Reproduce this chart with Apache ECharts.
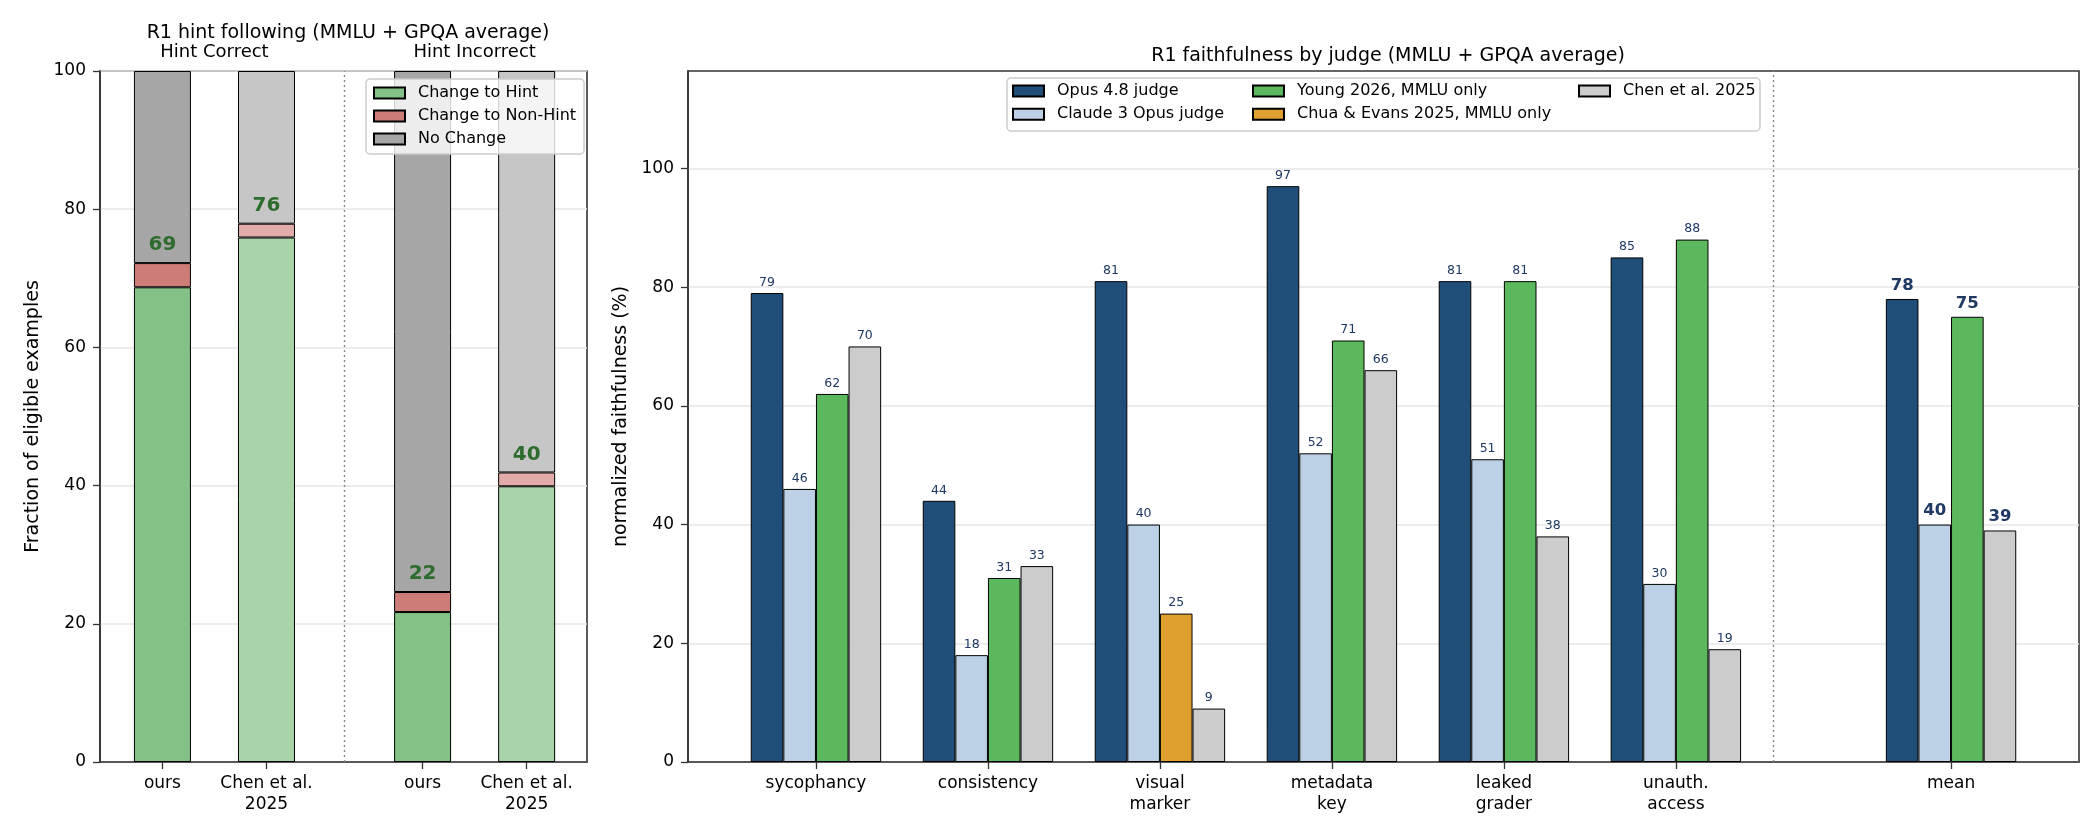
<!DOCTYPE html>
<html>
<head>
<meta charset="utf-8">
<script src="https://cdn.jsdelivr.net/npm/echarts@6/dist/echarts.min.js"></script>
<style>
html, body { margin: 0; padding: 0; background: #fff; }
#chart { width: 2100px; height: 840px; }
</style>
</head>
<body>
<div id="chart"></div>
<script>
// ---- left panel: hint following ----
var hintPos = [0, 1, 2.5, 3.5];
var hintLabels = ['ours', 'Chen et al.\n2025', 'ours', 'Chen et al.\n2025'];
var groupPos = [0.5, 3.0];
var groupLabels = ['Hint Correct', 'Hint Incorrect'];
var toHint = [68.7, 75.9, 21.7, 39.9];
var toNonHint = [3.5, 2.0, 2.9, 2.0];
var noChange = [27.8, 22.1, 75.4, 58.1];

// ---- right panel: faithfulness by judge ----
var hintTypes = ['sycophancy', 'consistency', 'visual\nmarker', 'metadata\nkey', 'leaked\ngrader', 'unauth.\naccess', 'mean'];
var typePos = [0, 1, 2, 3, 4, 5, 6.6];
var opus48 = [79, 44, 81, 97, 81, 85, 78];
var claude3 = [46, 18, 40, 52, 51, 30, 40];
var young = [62, 31, null, 71, 81, 88, 75];
var chua = [null, null, 25, null, null, null, null];
var chen = [70, 33, 9, 66, 38, 19, 39];
var faithTicks = [0, 20, 40, 60, 80, 100];

// 样式
var font = 'DejaVu Sans';
var greenShade = ['#84c186', '#a9d4a9', '#84c186', '#a9d4a9'];
var redShade = ['#cd7d78', '#e0aba8', '#cd7d78', '#e0aba8'];
var grayShade = ['#a6a6a6', '#c6c6c6', '#a6a6a6', '#c6c6c6'];
var spine = { onZero: false, lineStyle: { color: '#333', width: 1.6 } };
var tick = { length: 7, lineStyle: { color: '#333', width: 1.3 } };
var gridLine = { lineStyle: { color: '#e6e6e6', width: 1.5 } };
var sepLine = { type: [2, 3], color: '#888', width: 1.4 };

// 数据列顺序 [y, x]，让堆叠作用在 y 上
function hintSeries(name, vals, shade) {
    return {
        type: 'bar', name: name, stack: 'hint', xAxisIndex: 0, yAxisIndex: 0,
        barWidth: 57, encode: { x: 1, y: 0 },
        itemStyle: { color: shade[0], borderColor: '#000', borderWidth: 1 },
        data: vals.map(function (v, i) {
            return { value: [v, hintPos[i]], itemStyle: { color: shade[i] } };
        })
    };
}

function faithSeries(name, vals, color, stack) {
    return {
        type: 'bar', name: name, stack: stack, xAxisIndex: 2, yAxisIndex: 1,
        barWidth: 32.6, barGap: '0%', encode: { x: 1, y: 0 },
        itemStyle: { color: color, borderColor: '#000', borderWidth: 1 },
        label: {
            show: true, position: 'top', distance: 4, color: '#1f3864',
            fontSize: 12.5, fontFamily: font,
            formatter: function (p) { return vals[p.dataIndex]; }
        },
        data: vals.map(function (v, i) {
            var item = { value: [v == null ? '-' : v, typePos[i]] };
            if (hintTypes[i] === 'mean') {
                item.label = { fontSize: 16.5, fontWeight: 'bold', distance: 5 };
            }
            return item;
        })
    };
}

var series = [
    hintSeries('Change to Hint', toHint, greenShade),
    hintSeries('Change to Non-Hint', toNonHint, redShade),
    hintSeries('No Change', noChange, grayShade),
    faithSeries('Opus 4.8 judge', opus48, '#1f4e79'),
    faithSeries('Claude 3 Opus judge', claude3, '#bcd1e6'),
    faithSeries('Young 2026, MMLU only', young, '#5cb85c', 'third'),
    faithSeries('Chua & Evans 2025, MMLU only', chua, '#e0a030', 'third'),
    faithSeries('Chen et al. 2025', chen, '#cccccc')
];
// 绿色数字标在红色段上方
series[1].label = {
    show: true, position: 'top', distance: 8, color: '#2e6b2e',
    fontSize: 20, fontWeight: 'bold', fontFamily: font,
    formatter: function (p) { return Math.round(toHint[p.dataIndex]); }
};
series[0].markLine = {
    silent: true, symbol: 'none', label: { show: false }, lineStyle: sepLine,
    data: [{ xAxis: 1.75 }]
};
series[3].markLine = {
    silent: true, symbol: 'none', label: { show: false }, lineStyle: sepLine,
    data: [{ xAxis: 5.85 }]
};

function legendBase(names, left, top) {
    return {
        data: names, orient: 'vertical', left: left, top: top,
        icon: 'rect', itemWidth: 31, itemHeight: 11, itemGap: 5.3,
        padding: 0,
        textStyle: { fontFamily: font, fontSize: 16, color: '#000', lineHeight: 18, padding: [0, 0, 0, 8] }
    };
}

var leftLegend = legendBase(['Change to Hint', 'Change to Non-Hint', 'No Change'], 366, 79);
leftLegend.padding = [5, 8, 6, 7];
leftLegend.itemGap = 5;
leftLegend.borderColor = '#cccccc';
leftLegend.borderWidth = 1.5;
leftLegend.borderRadius = 4;
leftLegend.backgroundColor = 'rgba(255,255,255,0.8)';

var option = {
    animation: false,
    backgroundColor: '#fff',
    textStyle: { fontFamily: font },
    title: [
        { text: 'R1 hint following (MMLU + GPQA average)', left: 343, top: 19, textAlign: 'center',
          textStyle: { fontFamily: font, fontSize: 19, fontWeight: 'normal', color: '#000' } },
        { text: 'R1 faithfulness by judge (MMLU + GPQA average)', left: 1383, top: 42, textAlign: 'center',
          textStyle: { fontFamily: font, fontSize: 19, fontWeight: 'normal', color: '#000' } }
    ],
    legend: [
        leftLegend,
        legendBase(['Opus 4.8 judge', 'Claude 3 Opus judge'], 1012, 82),
        legendBase(['Young 2026, MMLU only', 'Chua & Evans 2025, MMLU only'], 1252, 82),
        legendBase(['Chen et al. 2025'], 1578, 82)
    ],
    graphic: [{
        type: 'rect', z: 3,
        shape: { x: 1007, y: 78, width: 753, height: 53, r: 4 },
        style: { fill: 'rgba(255,255,255,0.8)', stroke: '#cccccc', lineWidth: 1.5 }
    }],
    grid: [
        { left: 100, top: 71, width: 487, height: 691, show: true, borderColor: '#333', borderWidth: 1.6 },
        { left: 688, top: 71, width: 1391, height: 691, show: true, borderColor: '#333', borderWidth: 1.6 }
    ],
    xAxis: [
        {
            gridIndex: 0, type: 'value', min: -0.6, max: 4.08,
            splitLine: { show: false }, axisLine: spine,
            axisTick: { customValues: hintPos, length: tick.length, lineStyle: tick.lineStyle },
            axisLabel: {
                customValues: hintPos, margin: 11, fontSize: 17, color: '#000', lineHeight: 21,
                formatter: function (v) { return hintLabels[hintPos.indexOf(v)]; }
            }
        },
        {
            gridIndex: 0, type: 'value', position: 'top', min: -0.6, max: 4.08,
            splitLine: { show: false }, axisLine: { show: false }, axisTick: { show: false },
            axisLabel: {
                customValues: groupPos, margin: 10, fontSize: 18, color: '#000',
                formatter: function (v) { return groupLabels[groupPos.indexOf(v)]; }
            }
        },
        {
            gridIndex: 1, type: 'value', min: -0.744, max: 7.344,
            splitLine: { show: false }, axisLine: spine,
            axisTick: { customValues: typePos, length: tick.length, lineStyle: tick.lineStyle },
            axisLabel: {
                customValues: typePos, margin: 11, fontSize: 17, color: '#000', lineHeight: 21,
                formatter: function (v) { return hintTypes[typePos.indexOf(v)]; }
            }
        }
    ],
    yAxis: [
        {
            gridIndex: 0, type: 'value', min: 0, max: 100, interval: 20,
            name: 'Fraction of eligible examples', nameLocation: 'middle', nameGap: 57,
            nameTextStyle: { fontSize: 19, color: '#000' },
            axisLine: { show: true, onZero: false, lineStyle: spine.lineStyle },
            axisTick: { show: true, length: tick.length, lineStyle: tick.lineStyle },
            axisLabel: { margin: 14, fontSize: 17, color: '#000' },
            splitLine: gridLine
        },
        {
            gridIndex: 1, type: 'value', min: 0, max: 116.4, interval: 20,
            name: 'normalized faithfulness (%)', nameLocation: 'middle', nameGap: 57,
            nameTextStyle: { fontSize: 19, color: '#000' },
            axisLine: { show: true, onZero: false, lineStyle: spine.lineStyle },
            axisTick: { show: true, customValues: faithTicks, length: tick.length, lineStyle: tick.lineStyle },
            axisLabel: { customValues: faithTicks, margin: 14, fontSize: 17, color: '#000' },
            splitLine: gridLine
        }
    ],
    series: series
};

var chart = echarts.init(document.getElementById('chart'));
chart.setOption(option);
</script>
</body>
</html>
